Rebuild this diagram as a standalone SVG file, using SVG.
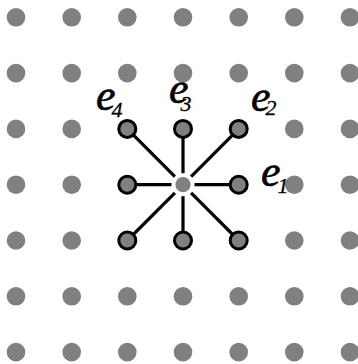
<svg xmlns="http://www.w3.org/2000/svg" width="358" height="364" viewBox="0 0 358 364">
<style>
.g{fill:#808080}
.n{fill:#808080;stroke:#000;stroke-width:3}
.c line{stroke:#000;stroke-width:3.2}
.e{font-family:"Liberation Serif",serif;font-style:italic;font-size:44px;fill:#000;stroke:#000;stroke-width:0.6}
.s{font-size:22px;stroke-width:0.3}
</style>
<g id="grid">
<circle class="g" cx="16" cy="17.3" r="9.3"/><circle class="g" cx="71.7" cy="17.3" r="9.3"/><circle class="g" cx="127.3" cy="17.3" r="9.3"/><circle class="g" cx="183" cy="17.3" r="9.3"/><circle class="g" cx="238.7" cy="17.3" r="9.3"/><circle class="g" cx="294.3" cy="17.3" r="9.3"/><circle class="g" cx="350" cy="17.3" r="9.3"/>
<circle class="g" cx="16" cy="73.1" r="9.3"/><circle class="g" cx="71.7" cy="73.1" r="9.3"/><circle class="g" cx="127.3" cy="73.1" r="9.3"/><circle class="g" cx="183" cy="73.1" r="9.3"/><circle class="g" cx="238.7" cy="73.1" r="9.3"/><circle class="g" cx="294.3" cy="73.1" r="9.3"/><circle class="g" cx="350" cy="73.1" r="9.3"/>
<circle class="g" cx="16" cy="128.9" r="9.3"/><circle class="g" cx="71.7" cy="128.9" r="9.3"/><circle class="g" cx="294.3" cy="128.9" r="9.3"/><circle class="g" cx="350" cy="128.9" r="9.3"/>
<circle class="g" cx="16" cy="184.7" r="9.3"/><circle class="g" cx="71.7" cy="184.7" r="9.3"/><circle class="g" cx="294.3" cy="184.7" r="9.3"/><circle class="g" cx="350" cy="184.7" r="9.3"/>
<circle class="g" cx="16" cy="240.5" r="9.3"/><circle class="g" cx="71.7" cy="240.5" r="9.3"/><circle class="g" cx="294.3" cy="240.5" r="9.3"/><circle class="g" cx="350" cy="240.5" r="9.3"/>
<circle class="g" cx="16" cy="296.3" r="9.3"/><circle class="g" cx="71.7" cy="296.3" r="9.3"/><circle class="g" cx="127.3" cy="296.3" r="9.3"/><circle class="g" cx="183" cy="296.3" r="9.3"/><circle class="g" cx="238.7" cy="296.3" r="9.3"/><circle class="g" cx="294.3" cy="296.3" r="9.3"/><circle class="g" cx="350" cy="296.3" r="9.3"/>
<circle class="g" cx="16" cy="352.1" r="9.3"/><circle class="g" cx="71.7" cy="352.1" r="9.3"/><circle class="g" cx="127.3" cy="352.1" r="9.3"/><circle class="g" cx="183" cy="352.1" r="9.3"/><circle class="g" cx="238.7" cy="352.1" r="9.3"/><circle class="g" cx="294.3" cy="352.1" r="9.3"/><circle class="g" cx="350" cy="352.1" r="9.3"/>
</g>
<g class="c" id="connectors">
<line x1="194.5" y1="184.7" x2="238.7" y2="184.7"/>
<line x1="191.1" y1="176.6" x2="238.7" y2="128.9"/>
<line x1="183" y1="173.2" x2="183" y2="128.9"/>
<line x1="174.9" y1="176.6" x2="127.3" y2="128.9"/>
<line x1="171.5" y1="184.7" x2="127.3" y2="184.7"/>
<line x1="174.9" y1="192.8" x2="127.3" y2="240.5"/>
<line x1="183" y1="196.2" x2="183" y2="240.5"/>
<line x1="191.1" y1="192.8" x2="238.7" y2="240.5"/>
</g>
<g id="center"><circle class="g" cx="183" cy="184.7" r="7.6"/></g>
<g id="e1"><circle class="n" cx="238.7" cy="184.7" r="8.5"/><text class="e" x="261" y="186">e<tspan class="s" dx="-3" dy="7">1</tspan></text></g>
<g id="e2"><circle class="n" cx="238.7" cy="128.9" r="8.5"/><text class="e" x="251" y="111">e<tspan class="s" dx="-5" dy="4">2</tspan></text></g>
<g id="e3"><circle class="n" cx="183" cy="128.9" r="8.5"/><text class="e" x="169" y="103">e<tspan class="s" dx="-8" dy="8">3</tspan></text></g>
<g id="e4"><circle class="n" cx="127.3" cy="128.9" r="8.5"/><text class="e" x="96" y="110">e<tspan class="s" dx="-4" dy="7">4</tspan></text></g>
<g id="n5"><circle class="n" cx="127.3" cy="184.7" r="8.5"/></g>
<g id="n6"><circle class="n" cx="127.3" cy="240.5" r="8.5"/></g>
<g id="n7"><circle class="n" cx="183" cy="240.5" r="8.5"/></g>
<g id="n8"><circle class="n" cx="238.7" cy="240.5" r="8.5"/></g>
</svg>
